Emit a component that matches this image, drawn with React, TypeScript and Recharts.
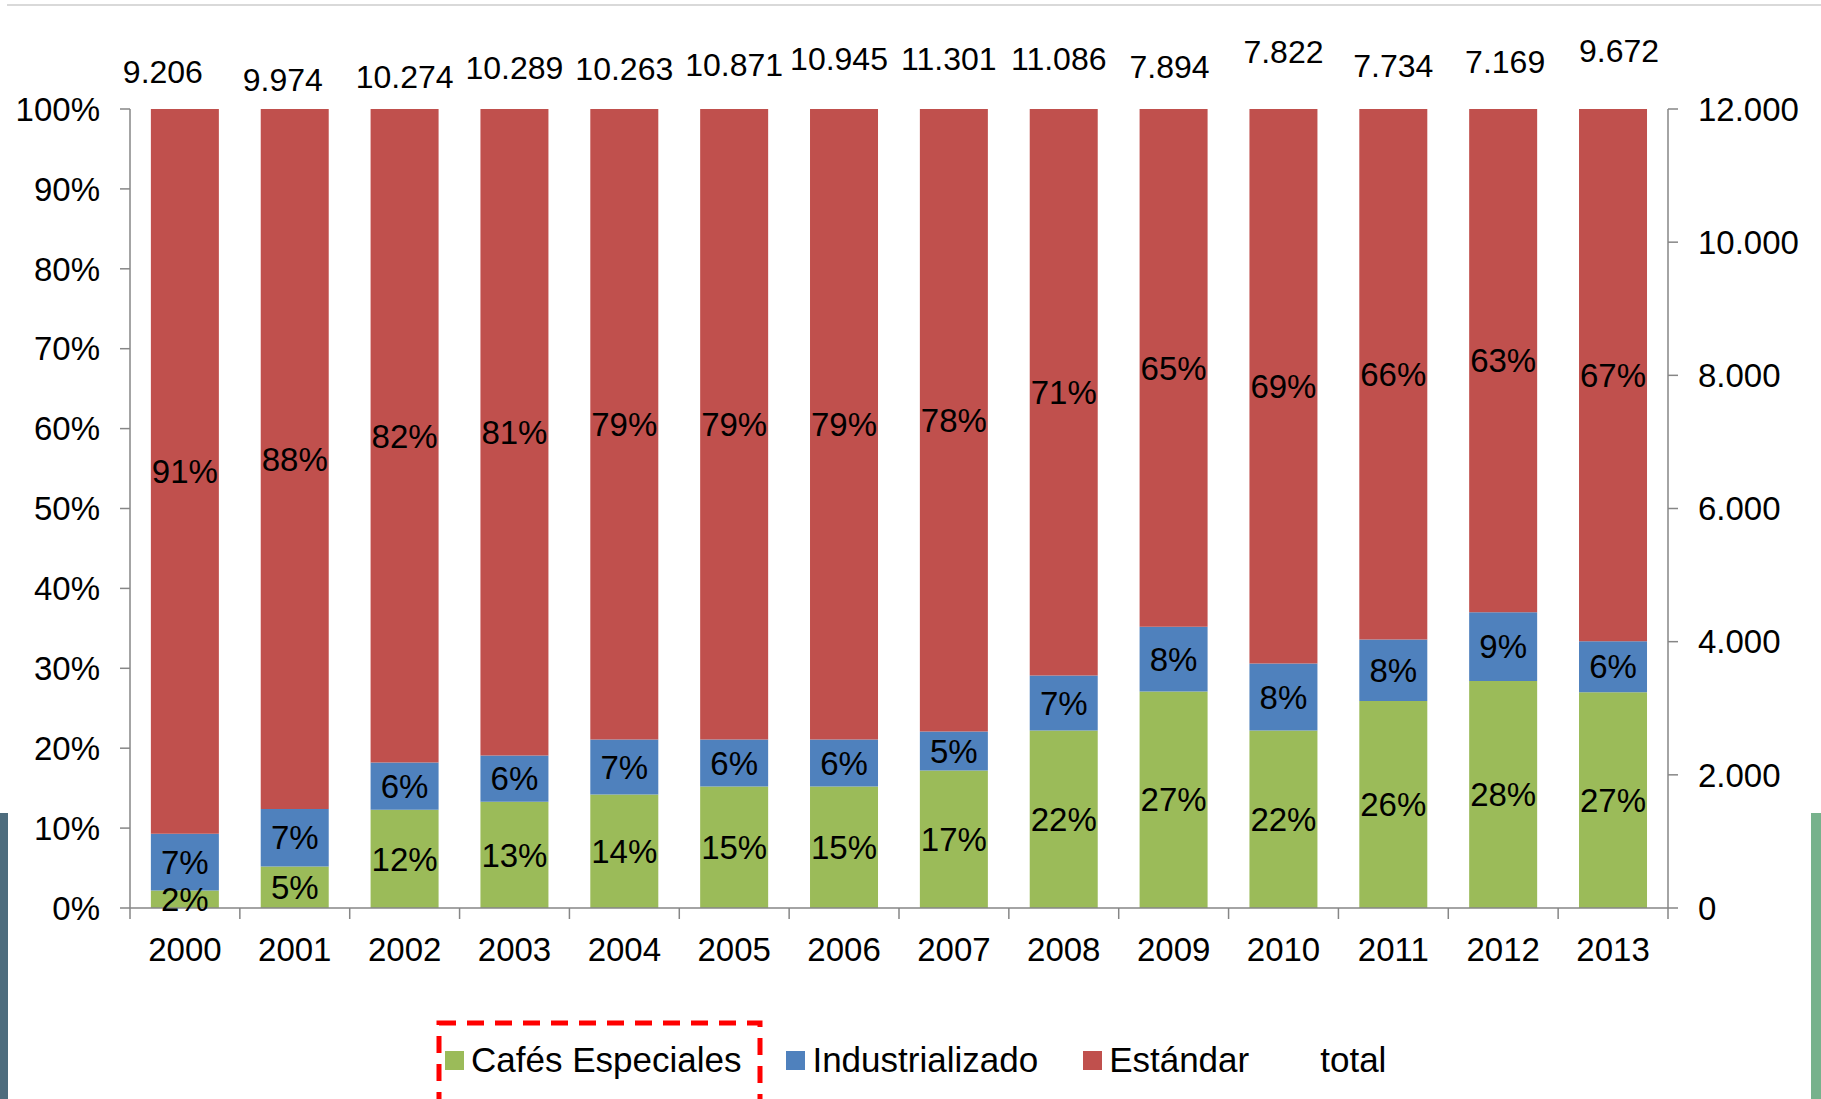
import { Bar, ComposedChart, LabelList, Line, XAxis, YAxis } from 'recharts';

const years = ['2000', '2001', '2002', '2003', '2004', '2005', '2006', '2007', '2008', '2009', '2010', '2011', '2012', '2013'];
// shares in % of the yearly total
const especiales = [2.2, 5.2, 12.3, 13.3, 14.2, 15.2, 15.2, 17.2, 22.2, 27.1, 22.2, 25.9, 28.4, 27.0];
const industrializado = [7.1, 7.2, 5.9, 5.8, 6.9, 5.9, 5.9, 4.9, 6.9, 8.1, 8.4, 7.7, 8.6, 6.4];
const estandar = [90.7, 87.6, 81.8, 80.9, 78.9, 78.9, 78.9, 77.9, 70.9, 64.8, 69.4, 66.4, 63.0, 66.6];
const totals = [9206, 9974, 10274, 10289, 10263, 10871, 10945, 11301, 11086, 7894, 7822, 7734, 7169, 9672];

const pctTicks = [0, 10, 20, 30, 40, 50, 60, 70, 80, 90, 100];
const totalTicks = [0, 2000, 4000, 6000, 8000, 10000, 12000];

// the total labels were dragged around by hand in the original slide
const totalLift = [37, 29, 32, 41, 40, 44, 50, 50, 50, 42, 57, 43, 47, 58];
const totalShift = [-22, -12, 0, 0, 0, 0, -5, -5, -5, -4, 0, 0, 2, 6];

const GREEN = '#9BBB59';
const BLUE = '#4F81BD';
const RED = '#C0504D';
const AXIS = '#868686';
const FONT = '"Liberation Sans", Arial, sans-serif';
const FS = 33;

const data = years.map((year, i) => ({
  year,
  especiales: especiales[i],
  industrializado: industrializado[i],
  estandar: estandar[i],
  total: totals[i],
}));

const thousands = (n: number) => String(n).replace(/\B(?=(\d{3})+(?!\d))/g, '.');
const pct = (v: any) => `${Math.round(Number(v))}%`;

function YearTick(props: any) {
  const { x, y, payload, index } = props;
  const half = payload?.offset ?? 0;
  return (
    <g>
      <line x1={x - half} x2={x - half} y1={y - 30} y2={y - 19} stroke={AXIS} strokeWidth={1.5} />
      {index === years.length - 1 && (
        <line x1={x + half} x2={x + half} y1={y - 30} y2={y - 19} stroke={AXIS} strokeWidth={1.5} />
      )}
      <text x={x} y={y} dy="0.71em" textAnchor="middle" fill="#000" fontSize={FS} fontFamily={FONT}>
        {payload.value}
      </text>
    </g>
  );
}

function TotalLabel(props: any) {
  const { x, y, width, value, index } = props;
  return (
    <text
      x={x + width / 2 + totalShift[index]}
      y={y - totalLift[index]}
      dy="0.355em"
      textAnchor="middle"
      fill="#000"
      fontSize={32}
      fontFamily={FONT}
    >
      {thousands(Number(value))}
    </text>
  );
}

function LegendItem({ color, label }: { color?: string; label: string }) {
  return (
    <div style={{ display: 'flex', alignItems: 'center', marginRight: 45 }}>
      <span style={{ width: 19, height: 19, background: color ?? 'transparent', marginRight: 7 }} />
      <span>{label}</span>
    </div>
  );
}

export default function App() {
  return (
    <div
      style={{
        position: 'absolute',
        left: 0,
        top: 0,
        width: 1821,
        height: 1099,
        overflow: 'hidden',
        background: '#fff',
        fontFamily: FONT,
      }}
    >
      <div style={{ position: 'absolute', left: 7, right: 0, top: 4, height: 2, background: '#d9d9d9' }} />
      <div style={{ position: 'absolute', left: 0, top: 813, width: 8, height: 286, background: '#4d6c7d' }} />
      <div style={{ position: 'absolute', left: 1811, top: 813, width: 10, height: 286, background: '#77b28c' }} />

      <div style={{ position: 'absolute', left: 0, top: 0 }}>
        <ComposedChart
          width={1821}
          height={968}
          data={data}
          margin={{ top: 109, right: 0, bottom: 0, left: 0 }}
          barCategoryGap="19%"
        >
          <XAxis
            dataKey="year"
            height={60}
            stroke={AXIS}
            strokeWidth={1.5}
            tickLine={false}
            tickSize={0}
            tickMargin={30}
            tick={<YearTick />}
            interval={0}
          />
          <YAxis
            yAxisId="left"
            width={130}
            domain={[0, 100]}
            ticks={pctTicks}
            tickFormatter={(v) => `${v}%`}
            stroke={AXIS}
            strokeWidth={1.5}
            tickSize={10}
            tickMargin={20}
            tick={{ fill: '#000', fontSize: FS, fontFamily: FONT }}
          />
          <YAxis
            yAxisId="right"
            orientation="right"
            width={153}
            domain={[0, 12000]}
            ticks={totalTicks}
            tickFormatter={(v) => thousands(v)}
            stroke={AXIS}
            strokeWidth={1.5}
            tickSize={10}
            tickMargin={20}
            tick={{ fill: '#000', fontSize: FS, fontFamily: FONT, textAnchor: 'start' }}
          />
          <Bar yAxisId="left" dataKey="especiales" stackId="s" fill={GREEN} isAnimationActive={false}>
            <LabelList dataKey="especiales" position="center" formatter={pct} fill="#000" fontSize={FS} fontFamily={FONT} />
          </Bar>
          <Bar yAxisId="left" dataKey="industrializado" stackId="s" fill={BLUE} isAnimationActive={false}>
            <LabelList dataKey="industrializado" position="center" formatter={pct} fill="#000" fontSize={FS} fontFamily={FONT} />
          </Bar>
          <Bar yAxisId="left" dataKey="estandar" stackId="s" fill={RED} isAnimationActive={false}>
            <LabelList dataKey="estandar" position="center" formatter={pct} fill="#000" fontSize={FS} fontFamily={FONT} />
            <LabelList dataKey="total" content={<TotalLabel />} />
          </Bar>
          <Line
            yAxisId="right"
            dataKey="total"
            stroke="none"
            dot={false}
            activeDot={false}
            legendType="none"
            isAnimationActive={false}
          />
        </ComposedChart>
      </div>

      <div
        style={{
          position: 'absolute',
          left: 445,
          top: 1040,
          display: 'flex',
          alignItems: 'center',
          fontSize: 35,
          color: '#000',
          whiteSpace: 'nowrap',
        }}
      >
        <LegendItem color={GREEN} label="Cafés Especiales" />
        <LegendItem color={BLUE} label="Industrializado" />
        <LegendItem color={RED} label="Estándar" />
        <LegendItem label="total" />
      </div>
      <svg style={{ position: 'absolute', left: 430, top: 1014 }} width={340} height={100}>
        <rect x={9} y={9} width={321} height={100} fill="none" stroke="#ff0000" strokeWidth={5} strokeDasharray="17 11" />
      </svg>
    </div>
  );
}
